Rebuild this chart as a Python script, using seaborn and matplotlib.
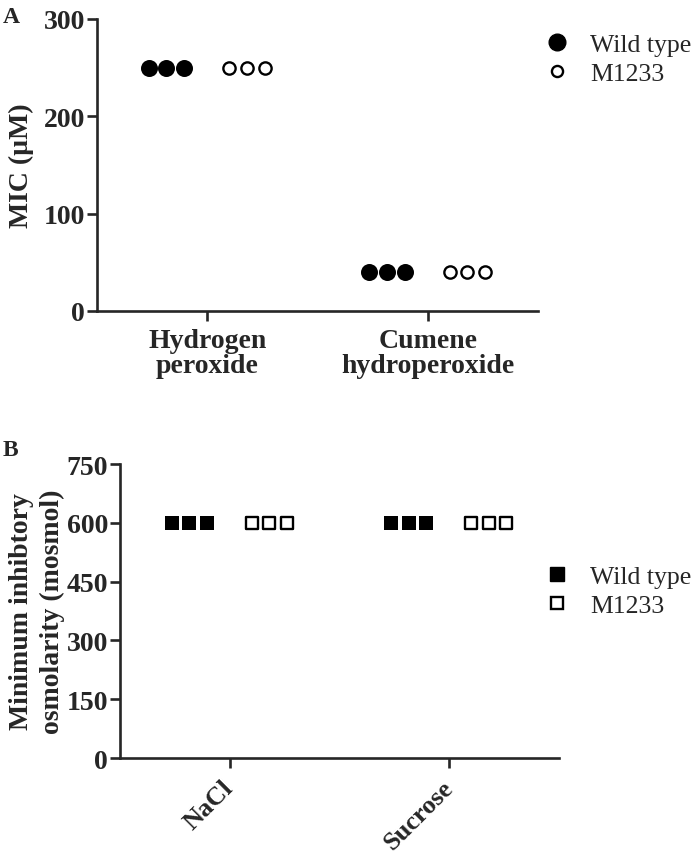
import numpy as np
import pandas as pd
import matplotlib
matplotlib.use("Agg")
import matplotlib.pyplot as plt
import matplotlib.transforms as mtransforms
import seaborn as sns
from matplotlib.lines import Line2D

# ---------------- data ----------------
cats_A = ["Hydrogen\nperoxide", "Cumene\nhydroperoxide"]
wt_A = [[250, 250, 250], [40, 40, 40]]
mut_A = [[250, 250, 250], [40, 40, 40]]
ticks_A = [0, 100, 200, 300]

cats_B = ["NaCl", "Sucrose"]
wt_B = [[600, 600, 600], [600, 600, 600]]
mut_B = [[600, 600, 600], [600, 600, 600]]
ticks_B = [0, 150, 300, 450, 600, 750]

strains = ["Wild type", "M1233"]

sns.set_style("ticks")
plt.rcParams["font.family"] = ["Liberation Serif", "DejaVu Serif"]
plt.rcParams["font.weight"] = "bold"
plt.rcParams["axes.linewidth"] = 1.9
plt.rcParams["xtick.major.width"] = 1.9
plt.rcParams["ytick.major.width"] = 1.9
plt.rcParams["xtick.major.size"] = 7
plt.rcParams["ytick.major.size"] = 7.5

def make_df(cats, wt, mut):
    rows = []
    for ci, c in enumerate(cats):
        for s, vals in zip(strains, (wt[ci], mut[ci])):
            for ri, v in enumerate(vals):
                rows.append(dict(cat=c, ci=ci, strain=s, rep=ri, value=v))
    df = pd.DataFrame(rows)
    group_off = {"Wild type": -0.185, "M1233": 0.18}
    df["pos"] = df["ci"] + df["strain"].map(group_off) + (df["rep"] - 1) * 0.08
    return df

fig = plt.figure(figsize=(7.0, 8.54), dpi=100)
axA = fig.add_axes([0.1386, 0.6347, 0.630, 0.3419])
axB = fig.add_axes([0.1714, 0.1112, 0.627, 0.3443])

# ---- panel A ----
dfA = make_df(cats_A, wt_A, mut_A)
sns.scatterplot(data=dfA[dfA.strain == "Wild type"], x="pos", y="value", ax=axA,
                marker="o", s=150, color="black", linewidth=0, clip_on=False, legend=False)
sns.scatterplot(data=dfA[dfA.strain == "M1233"], x="pos", y="value", ax=axA,
                marker="o", s=78, facecolor="white", edgecolor="black", linewidth=1.7,
                clip_on=False, legend=False)
axA.set_xlim(-0.5, 1.5)
axA.set_ylim(0, 300)
axA.set_yticks(ticks_A)
axA.set_xticks(range(len(cats_A)))
axA.set_xticklabels(cats_A, fontsize=20, fontweight="bold", linespacing=1.0)
axA.tick_params(axis="y", labelsize=20, pad=1)
axA.tick_params(axis="x", pad=5)
axA.set_xlabel("")
axA.set_ylabel("MIC (\u00b5M)", fontsize=20, fontweight="bold", labelpad=7)
sns.despine(ax=axA)

legprop = {"family": "Liberation Serif", "weight": "normal", "size": 18.5}
hA = [Line2D([], [], marker="o", ls="", color="black", markersize=12),
      Line2D([], [], marker="o", ls="", markerfacecolor="white", markeredgecolor="black",
             markeredgewidth=1.7, markersize=8)]
fig.legend(hA, strains, loc="upper left", bbox_to_anchor=(0.759, 0.9756),
           frameon=False, handlelength=1.0, handletextpad=0.78, labelspacing=0.25,
           borderpad=0, prop=legprop)

# ---- panel B ----
dfB = make_df(cats_B, wt_B, mut_B)
sns.scatterplot(data=dfB[dfB.strain == "Wild type"], x="pos", y="value", ax=axB,
                marker="s", s=88, color="black", linewidth=0, clip_on=False, legend=False)
sns.scatterplot(data=dfB[dfB.strain == "M1233"], x="pos", y="value", ax=axB,
                marker="s", s=64, facecolor="white", edgecolor="black", linewidth=1.7,
                clip_on=False, legend=False)
axB.set_xlim(-0.5, 1.5)
axB.set_ylim(0, 750)
axB.set_yticks(ticks_B)
axB.set_xticks(range(len(cats_B)))
axB.set_xticklabels(cats_B, fontsize=19, fontweight="bold", rotation=45,
                    ha="right", rotation_mode="anchor")
off = mtransforms.ScaledTranslation(-8 / 100, -3 / 100, fig.dpi_scale_trans)
for lab in axB.get_xticklabels():
    lab.set_transform(lab.get_transform() + off)
axB.tick_params(axis="y", labelsize=20, pad=1)
axB.set_xlabel("")
axB.set_ylabel("Minimum inhibtory\nosmolarity (mosmol)", fontsize=20, fontweight="bold",
               labelpad=1, linespacing=1.33)
sns.despine(ax=axB)

hB = [Line2D([], [], marker="s", ls="", color="black", markersize=9.5),
      Line2D([], [], marker="s", ls="", markerfacecolor="white", markeredgecolor="black",
             markeredgewidth=1.7, markersize=8)]
fig.legend(hB, strains, loc="upper left", bbox_to_anchor=(0.759, 0.3524),
           frameon=False, handlelength=1.0, handletextpad=0.78, labelspacing=0.25,
           borderpad=0, prop=legprop)

fig.text(0.004, 0.992, "A", fontsize=17, fontweight="bold", va="top", ha="left")
fig.text(0.004, 0.485, "B", fontsize=17, fontweight="bold", va="top", ha="left")

fig.savefig("out.png", dpi=100, facecolor="white")
